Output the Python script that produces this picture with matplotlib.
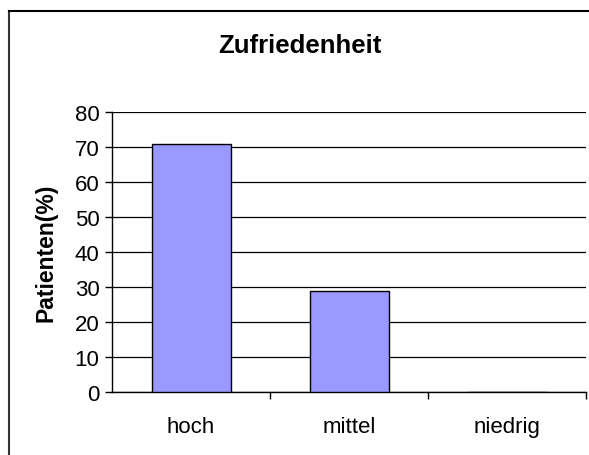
import matplotlib.pyplot as plt
from matplotlib.lines import Line2D

categories = ["hoch", "mittel", "niedrig"]
patients_pct = [71, 29, 0]
y_ticks = [0, 10, 20, 30, 40, 50, 60, 70, 80]

plt.rcParams['font.family'] = ['Liberation Sans', 'DejaVu Sans']

fig = plt.figure(figsize=(5.89, 4.56), dpi=100)
ax = fig.add_axes([112 / 589, 1 - 393 / 456, (586 - 112) / 589, (393 - 113) / 456])

x = list(range(len(categories)))
ax.bar(x, patients_pct, width=0.5, color="#9999ff", edgecolor="black", linewidth=1, zorder=3)

ax.set_xlim(-0.5, len(categories) - 0.5)
ax.set_ylim(0, 80)
ax.set_yticks(y_ticks)
ax.yaxis.grid(True, color="black", linewidth=0.9, zorder=0)

# category labels in the middle, tick marks on the boundaries
ax.set_xticks(x)
ax.set_xticklabels(categories, fontsize=16)
ax.tick_params(axis="x", length=0, pad=17)
ax.set_xticks([i + 0.5 for i in x], minor=True)
ax.tick_params(axis="x", which="minor", length=5, width=1, direction="out")
ax.tick_params(axis="y", labelsize=16, length=5, width=1, direction="out", pad=4)

for side in ["top", "right"]:
    ax.spines[side].set_visible(False)
for side in ["left", "bottom"]:
    ax.spines[side].set_linewidth(1)
    ax.spines[side].set_color("black")

ax.set_ylabel("Patienten(%)", fontsize=16.5, fontweight="bold", labelpad=12)
fig.text(300 / 589, 1 - 46 / 456, "Zufriedenheit", fontsize=18.5, fontweight="bold",
         ha="center", va="center")

# chart frame (only its left and top edges fall inside the image)
fig.add_artist(Line2D([9 / 589, 9 / 589], [0, 1 - 12 / 456], color="#333333", linewidth=1.5,
                      transform=fig.transFigure))
fig.add_artist(Line2D([9 / 589, 1], [1 - 12 / 456, 1 - 12 / 456], color="black", linewidth=1.5,
                      transform=fig.transFigure))

fig.savefig("out.png", dpi=100)
